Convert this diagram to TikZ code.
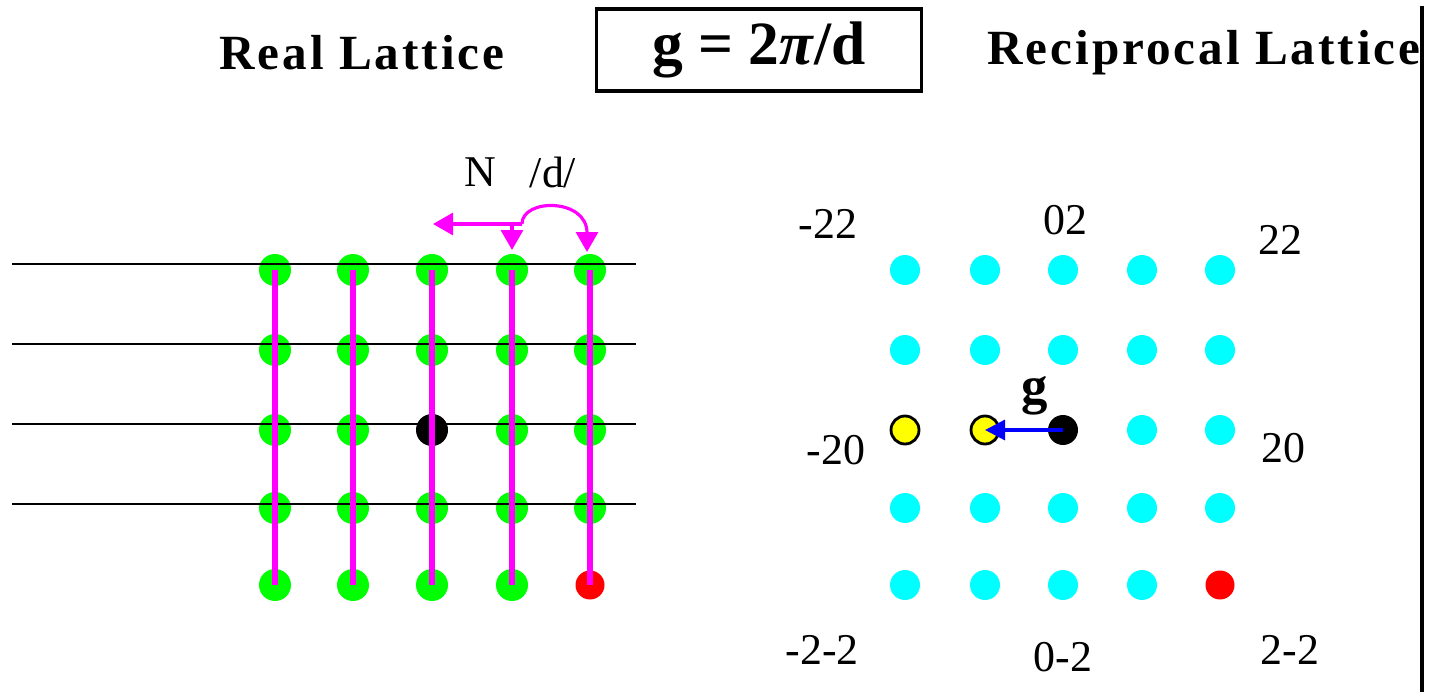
\documentclass[tikz,border=0pt]{standalone}
\usepackage{fontspec}
\setmainfont{Liberation Serif}
\usetikzlibrary{arrows.meta,positioning,calc}
\definecolor{latgreen}{RGB}{0,255,0}
\definecolor{latmag}{RGB}{255,0,255}
\definecolor{latcyan}{RGB}{0,255,255}
\definecolor{latred}{RGB}{255,0,0}
\definecolor{latyel}{RGB}{255,255,0}
\definecolor{latblue}{RGB}{0,0,255}

\begin{document}
\begin{tikzpicture}[x=0.02cm,y=-0.02cm,
  >={Triangle[length=4mm,width=4.4mm]},
  site/.style={circle,inner sep=0pt,minimum size=6.4mm,fill=latgreen},
  blksite/.style={site,fill=black},
  redsite/.style={site,fill=latred,minimum size=5.8mm},
  ksite/.style={circle,inner sep=0pt,minimum size=6mm,fill=latcyan},
  kblk/.style={ksite,fill=black},
  kred/.style={ksite,fill=latred,minimum size=5.8mm},
  kyel/.style={ksite,fill=latyel,draw=black,line width=1.6pt,minimum size=5.6mm},
  plane/.style={black,line width=1.1pt},
  rod/.style={latmag,line width=3.4pt},
  narr/.style={latmag,line width=1.8pt},
  gvec/.style={latblue,line width=1.8pt,-{Triangle[length=4mm,width=4mm]}},
  title/.style={font=\fontsize{28}{32}\selectfont\bfseries\addfontfeature{LetterSpace=6}},
  lbl/.style={font=\fontsize{25}{28}\selectfont}]
\useasboundingbox (0,0) rectangle (1433,692);

% headings
\node[title] (realT) at (362,53) {Real Lattice};
\node[title] (recT) at (1204,53) {Reciprocal Lattice};
\node[draw,line width=2pt,minimum width=6.5cm,minimum height=1.64cm,
      font=\fontsize{35}{40}\selectfont\bfseries] (eq) at (759,50) {g = 2\textit{π}/d};
\coordinate (vtop) at (1422,6);
\coordinate (vbot) at (1422,692);
\draw[line width=2.2pt] (vtop) -- (vbot);

% real lattice
\foreach \c/\x in {1/275,2/353,3/432,4/512,5/590}
  \foreach \r/\y in {1/270,2/350,3/430,4/508,5/585}{
    \ifnum\c\r=33 \def\st{blksite}\else\ifnum\c\r=55 \def\st{redsite}\else\def\st{site}\fi\fi
    \node[\st] (r\c\r) at (\x,\y) {};
  }
\foreach \i/\y in {1/264,2/344,3/424,4/504}{
  \coordinate (pl\i) at (12,\y);
  \coordinate (pr\i) at (636,\y);
  \draw[plane] (pl\i) -- (pr\i);
}
\foreach \c in {1,...,5}
  \draw[rod] (r\c1.center) -- (r\c5.center);

% normal and spacing
\coordinate (nsplit) at (512,224);
\coordinate (nend) at (522,224);
\coordinate (nleft) at (433,224);
\coordinate (ndown) at (512,250);
\coordinate (dtip) at (587,252);
\draw[narr,->] (nend) -- (nleft);
\draw[narr,->] (nsplit) -- (ndown);
\draw[narr,->] (nend) .. controls (522,198) and (587,198) .. (dtip);
\node[lbl] (nlab) at (480,172) {N};
\node[lbl] (dlab) at (553,172) {/d/};

% reciprocal lattice
\foreach \c/\x in {1/905,2/985,3/1063,4/1142,5/1220}
  \foreach \r/\y in {1/270,2/350,3/430,4/508,5/585}{
    \ifnum\c\r=33 \def\st{kblk}\else\ifnum\c\r=55 \def\st{kred}\else
      \ifnum\r=3 \ifnum\c<3 \def\st{kyel}\else\def\st{ksite}\fi\else\def\st{ksite}\fi\fi\fi
    \node[\st] (k\c\r) at (\x,\y) {};
  }
\draw[gvec] (k33.center) -- (k23.center);
\node[font=\fontsize{30}{34}\selectfont\bfseries] (glab) at (1035,396) {g};

\node[lbl] (m22) at (828,224) {-22};
\node[lbl] (z02) at (1065,220) {02};
\node[lbl] (p22) at (1280,240) {22};
\node[lbl] (m20) at (836,450) {-20};
\node[lbl] (p20) at (1283,448) {20};
\node[lbl] (mm22) at (822,650) {-2-2};
\node[lbl] (z0m2) at (1063,657) {0-2};
\node[lbl] (pm22) at (1290,650) {2-2};
\end{tikzpicture}
\end{document}
